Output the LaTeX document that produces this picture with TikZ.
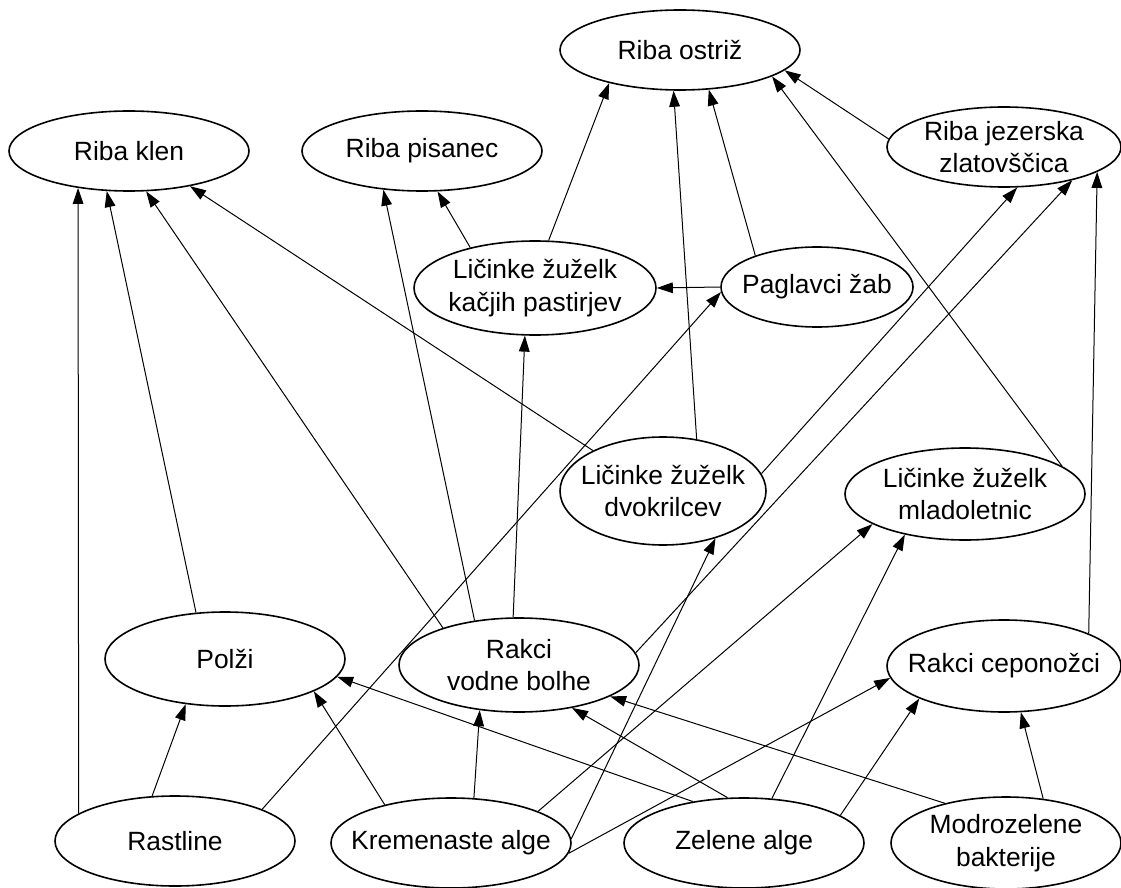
\documentclass[tikz,border=0pt]{standalone}
\usepackage{fontspec}
\setmainfont{Liberation Sans}
\usetikzlibrary{shapes.geometric,arrows.meta}

\begin{document}
\begin{tikzpicture}[x=0.75pt,y=-0.75pt,
    sp/.style={ellipse,draw,line width=1.2pt,inner xsep=-30pt,inner ysep=-15pt,
      minimum width=180pt,minimum height=67.5pt,align=center,
      font=\fontsize{19.8}{24.5}\selectfont},
    eat/.style={line width=0.75pt,-{Triangle[length=12pt,width=8pt]}}]
  \useasboundingbox (0,0) rectangle (1121,888);

  % fish
  \node[sp,minimum height=60pt] (ostriz) at (680,50) {Riba ostriž};
  \node[sp,minimum height=60pt] (klen) at (129,151) {Riba klen};
  \node[sp,minimum height=60pt] (pisanec) at (422,151) {Riba pisanec};
  \node[sp,minimum width=175.5pt,minimum height=60pt] (jezer) at (1004,147) {Riba jezerska\\zlatovščica};

  % larvae and the rest
  \node[sp,minimum width=181.5pt,minimum height=70.5pt] (kacji) at (535,288) {Ličinke žuželk\\kačjih pastirjev};
  \node[sp,minimum width=144pt,minimum height=60pt] (pagl) at (817,287) {Paglavci žab};
  \node[sp,minimum width=154.5pt,minimum height=81pt] (dvokr) at (663,491) {Ličinke žuželk\\dvokrilcev};
  \node[sp,minimum height=69pt] (mlado) at (965,494) {Ličinke žuželk\\mladoletnic};
  \node[sp,minimum height=70.5pt] (polzi) at (225,659) {Polži};
  \node[sp,minimum height=70.5pt] (bolhe) at (519,665) {Rakci\\vodne bolhe};
  \node[sp,minimum width=175.5pt,minimum height=69pt] (cepon) at (1004,666) {Rakci ceponožci};

  % producers
  \node[sp] (rast) at (175,841) {Rastline};
  \node[sp] (kremen) at (451,843) {Kremenaste alge};
  \node[sp] (zelene) at (744,843) {Zelene alge};
  \node[sp,minimum width=172.5pt,minimum height=69pt] (modro) at (1006,843) {Modrozelene\\bakterije};

  % who eats whom
  \foreach \a/\b in {rast.164/klen.216, polzi.122/klen.241, bolhe.154/klen.293,
      dvokr.150/klen.330, bolhe.135/pisanec.225, kacji.148/pisanec.291,
      kacji.74/ostriz.205, dvokr.57/ostriz.261, pagl.153/ostriz.306,
      mlado.16/ostriz.344, jezer.176/ostriz.349, dvokr.10/jezer.288,
      bolhe.6/jezer.334, cepon.21/jezer.345, rast.20/pagl.183,
      pagl.180/kacji.0, bolhe.97/kacji.258, rast.117/polzi.229,
      kremen.150/polzi.340, zelene.141/polzi.351, kremen.63/bolhe.229,
      zelene.110/bolhe.321, modro.147/bolhe.341, kremen.2/dvokr.318,
      kremen.20/mlado.198, kremen.355/cepon.186, zelene.58/mlado.214,
      zelene.16/cepon.201, modro.50/cepon.290}
    \draw[eat] (\a) -- (\b);
\end{tikzpicture}
\end{document}
